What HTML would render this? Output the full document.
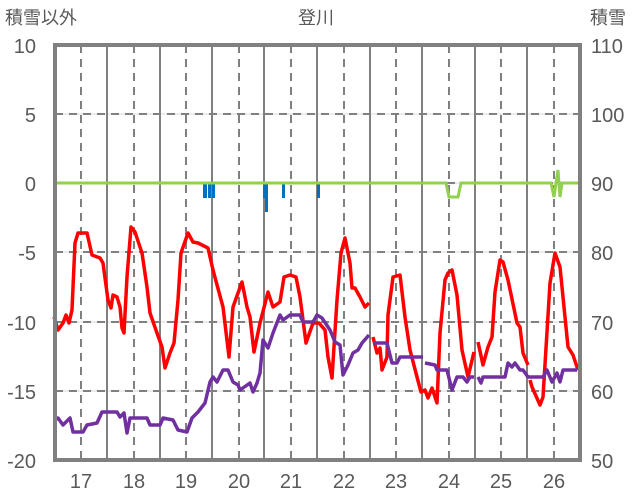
<!DOCTYPE html>
<html><head><meta charset="utf-8"><style>
body{margin:0;background:#fff;}
svg{display:block;font-family:"Liberation Sans","Noto Sans CJK JP",sans-serif;}
</style></head><body>
<svg width="636" height="501" viewBox="0 0 636 501">
<rect width="636" height="501" fill="#fff"/>
<g fill="#595959" font-size="18">
<text x="5" y="24">積雪以外</text>
<text x="316" y="24" text-anchor="middle">登川</text>
<text x="590" y="24">積雪</text>
</g>
<g fill="#595959" font-size="20">
<g text-anchor="end">
<text x="36" y="53">10</text><text x="36" y="122">5</text><text x="36" y="191">0</text>
<text x="36" y="260">-5</text><text x="36" y="330">-10</text><text x="36" y="399">-15</text><text x="36" y="468">-20</text>
</g>
<g>
<text x="591" y="53">110</text><text x="591" y="122">100</text><text x="591" y="191">90</text>
<text x="591" y="260">80</text><text x="591" y="330">70</text><text x="591" y="399">60</text><text x="591" y="468">50</text>
</g>
<g text-anchor="middle">
<text x="81" y="488">17</text><text x="134" y="488">18</text><text x="186" y="488">19</text><text x="239" y="488">20</text><text x="291" y="488">21</text>
<text x="344" y="488">22</text><text x="396" y="488">23</text><text x="449" y="488">24</text><text x="501" y="488">25</text><text x="554" y="488">26</text>
</g>
</g>
<g stroke="#d9d9d9" stroke-width="1">
<line x1="55" x2="580" y1="114" y2="114"/><line x1="55" x2="580" y1="183" y2="183"/><line x1="55" x2="580" y1="252" y2="252"/><line x1="55" x2="580" y1="322" y2="322"/><line x1="55" x2="580" y1="391" y2="391"/>
</g>
<g stroke="#808080" stroke-width="2" stroke-dasharray="8,6">
<line x1="55" x2="580" y1="114" y2="114"/><line x1="55" x2="580" y1="183" y2="183"/><line x1="55" x2="580" y1="252" y2="252"/><line x1="55" x2="580" y1="322" y2="322"/><line x1="55" x2="580" y1="391" y2="391"/>
<line x1="81" x2="81" y1="45" y2="460"/><line x1="134" x2="134" y1="45" y2="460"/><line x1="186" x2="186" y1="45" y2="460"/><line x1="239" x2="239" y1="45" y2="460"/><line x1="291" x2="291" y1="45" y2="460"/>
<line x1="344" x2="344" y1="45" y2="460"/><line x1="396" x2="396" y1="45" y2="460"/><line x1="449" x2="449" y1="45" y2="460"/><line x1="501" x2="501" y1="45" y2="460"/><line x1="554" x2="554" y1="45" y2="460"/>
</g>
<g stroke="#808080" stroke-width="2">
<line x1="107" x2="107" y1="45" y2="460"/><line x1="160" x2="160" y1="45" y2="460"/><line x1="212" x2="212" y1="45" y2="460"/><line x1="264" x2="264" y1="45" y2="460"/><line x1="317" x2="317" y1="45" y2="460"/>
<line x1="370" x2="370" y1="45" y2="460"/><line x1="422" x2="422" y1="45" y2="460"/><line x1="475" x2="475" y1="45" y2="460"/><line x1="527" x2="527" y1="45" y2="460"/>
</g>
<g fill="#0070c0">
<rect x="203" y="184" width="4" height="14"/><rect x="208" y="184" width="3" height="14"/><rect x="212" y="184" width="3" height="14"/>
<rect x="263" y="184" width="5" height="14"/><rect x="265" y="184" width="3" height="28"/>
<rect x="282" y="184" width="3" height="14"/><rect x="317" y="184" width="3" height="14"/>
</g>
<polyline fill="none" stroke="#92d050" stroke-width="3" points="55,183 446,183 449,197 458,197 461,183 551,183 554,197 556,183 558,170 560,197 562,183 578,183"/>
<g fill="none" stroke="#ff0000" stroke-width="3.5" stroke-linejoin="round">
<polyline points="54,317 58,330 63,323 66,315 69,323 72,310 75,243 78,233 87,233 92,255 100,258 103,263 108,300 111,308 113,295 117,297 120,307 122,328 124,333 127,277 131,227 135,232 142,253 147,287 150,313 157,333 162,347 165,368 170,353 174,343 178,300 181,253 188,233 193,242 198,243 208,248 213,270 223,307 229,357 233,307 242,282 247,307 250,317 254,352 260,323 268,292 273,307 280,302 284,277 290,275 296,277 300,297 306,343 313,323 319,323 325,330 328,357 332,378 337,300 341,253 345,238 350,263 352,288 355,288 360,297 365,307 369,303"/>
<polyline points="373,337 377,353 380,348 382,370 387,357 388,315 393,277 400,275 405,317 410,350 417,377 421,392 425,390 428,398 432,388 437,403 440,333 445,280 448,273 452,270 457,295 462,350 468,377 474,352"/>
<polyline points="478,342 483,365 488,347 492,337 495,292 500,260 503,262 508,280 517,323 520,327 523,353 528,365"/>
<polyline points="530,380 532,387 540,405 543,397 550,283 555,253 560,267 568,347 573,355 578,370"/>
</g>
<g fill="none" stroke="#7030a0" stroke-width="3.5" stroke-linejoin="round">
<polyline points="54,420 58,418 63,425 70,418 73,432 83,432 87,425 97,423 102,412 117,412 120,417 124,413 127,433 130,418 147,418 150,425 160,425 163,418 173,420 178,430 187,432 192,418 198,412 205,403 210,382 213,377 217,382 223,370 228,370 233,382 238,385 240,390 250,383 253,392 257,383 260,373 263,340 268,348 273,333 280,315 283,320 290,315 300,315 303,322 313,322 317,315 322,318 330,330 335,342 340,345 343,375 348,365 353,353 358,350 362,343 369,335"/>
<polyline points="373,343 387,343 392,363 397,363 400,357 423,357"/>
<polyline points="425,363 435,365 437,370 447,370 452,390 457,377 463,377 467,382 470,377 474,377"/>
<polyline points="478,377 481,383 483,377 505,377 508,363 512,367 515,363 520,370 523,370 528,377 543,377 547,370 552,382 557,373 560,382 563,370 573,370 577,370"/>
</g>
<rect x="55" y="45" width="525" height="415" fill="none" stroke="#808080" stroke-width="4"/>
</svg>
</body></html>
